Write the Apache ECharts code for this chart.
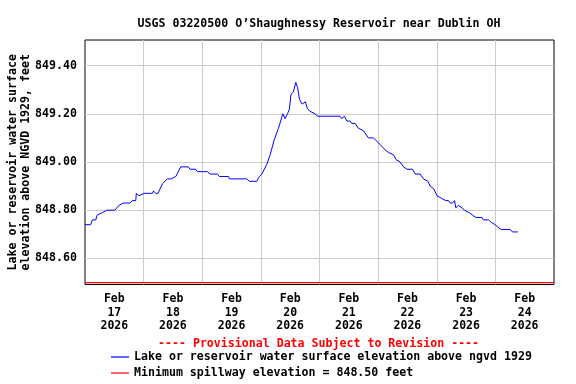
<!DOCTYPE html>
<html>
<head>
<meta charset="utf-8">
<script src="https://cdn.jsdelivr.net/npm/echarts@6/dist/echarts.min.js"></script>
<style>html,body{margin:0;padding:0;background:#fff}#c{width:576px;height:384px}</style>
</head>
<body>
<div id="c"></div>
<script>
// Hours since Feb 17 2026 00:00
const hours = [0,2.3,3.0,4.4,5.0,7.1,8.9,12.2,13.9,15.7,18.4,19.4,20.8,21.0,22.1,24.2,27.6,28.0,29.0,29.9,31.7,33.7,35.3,37.2,39.2,42.3,43.0,45.3,46.0,48.5,50.1,51.2,54.2,55.0,58.7,59.1,66.2,67.3,70.3,71.4,72.4,74.4,75.8,77.4,79.2,81.0,81.9,82.9,83.7,84.3,85.3,86.3,87.0,87.8,88.9,90.2,91.1,92.2,94.2,95.1,104.4,105.1,106.2,107.2,108.5,109.2,110.6,111.9,114.0,116.0,118.1,120.1,122.9,124.2,126.3,127.3,129.0,130.4,131.8,134.1,135.2,137.2,138.6,140.4,141.3,142.7,144.1,145.8,147.7,148.8,149.5,150.4,151.3,151.8,152.9,154.3,155.4,157.3,158.6,160.0,162.5,163.1,165.2,166.3,167.9,169.0,170.4,174.1,175.0,177.2];
const elevation = [848.74,848.74,848.76,848.76,848.78,848.79,848.80,848.80,848.82,848.83,848.83,848.84,848.84,848.87,848.86,848.87,848.87,848.88,848.87,848.87,848.91,848.93,848.93,848.94,848.98,848.98,848.97,848.97,848.96,848.96,848.96,848.95,848.95,848.94,848.94,848.93,848.93,848.92,848.92,848.94,848.95,848.99,849.03,849.09,849.14,849.20,849.18,849.20,849.22,849.28,849.29,849.33,849.31,849.26,849.24,849.25,849.22,849.21,849.20,849.19,849.19,849.18,849.19,849.17,849.17,849.16,849.16,849.14,849.13,849.10,849.10,849.08,849.05,849.04,849.03,849.01,849.00,848.98,848.97,848.97,848.95,848.95,848.93,848.92,848.90,848.89,848.86,848.85,848.84,848.84,848.83,848.83,848.84,848.81,848.82,848.81,848.80,848.79,848.78,848.77,848.77,848.76,848.76,848.75,848.74,848.73,848.72,848.72,848.71,848.71];
const spillwayHours = [0, 192];
const spillwayValues = [848.50, 848.50];
const yTicks = [848.60, 848.80, 849.00, 849.20, 849.40];
const xLabelHours = [12, 36, 60, 84, 108, 132, 156, 180];
const xLabelTexts = ['Feb\n17\n2026','Feb\n18\n2026','Feb\n19\n2026','Feb\n20\n2026','Feb\n21\n2026','Feb\n22\n2026','Feb\n23\n2026','Feb\n24\n2026'];
const xGridHours = [24, 48, 72, 96, 120, 144, 168];
const titleText = "USGS 03220500 O\u2019Shaughnessy Reservoir near Dublin OH";
const yName = "Lake or reservoir water surface\nelevation above NGVD 1929, feet";
const provisional = "---- Provisional Data Subject to Revision ----";
const seriesNames = ["Lake or reservoir water surface elevation above ngvd 1929", "Minimum spillway elevation = 848.50 feet"];

const FONT = '"DejaVu Sans Mono", "Liberation Mono", monospace';
const legendText = {fontFamily: FONT, fontWeight: 'bold', fontSize: 11.6, color: '#000'};
const chart = echarts.init(document.getElementById('c'), null, {renderer: 'canvas'});
chart.setOption({
  animation: false,
  backgroundColor: '#fff',
  title: {
    text: titleText, left: 314, top: 13, textAlign: 'center',
    textStyle: {fontFamily: FONT, fontWeight: 'bold', fontSize: 11.6, color: '#000'}
  },
  grid: {left: 85, right: 22, top: 40, bottom: 99.5, show: true, borderColor: '#000', borderWidth: 1,
         backgroundColor: 'transparent', containLabel: false, outerBoundsMode: 'none'},
  xAxis: {
    type: 'value', min: 0, max: 192,
    axisLine: {show: false},
    axisTick: {show: false, customValues: xGridHours},
    splitLine: {show: true, lineStyle: {color: '#cccccc', width: 1}},
    axisLabel: {
      customValues: xLabelHours,
      formatter: function (v) { const i = xLabelHours.indexOf(v); return i >= 0 ? xLabelTexts[i] : ''; },
      fontFamily: FONT, fontWeight: 'bold', fontSize: 11.5, lineHeight: 13.5, color: '#000', margin: 8
    }
  },
  yAxis: {
    type: 'value', min: 848.492, max: 849.506,
    name: yName, nameLocation: 'middle', nameRotate: 90, nameGap: 53, nameMoveOverlap: false,
    nameTextStyle: {fontFamily: FONT, fontWeight: 'bold', fontSize: 11.6, lineHeight: 12.5, color: '#000'},
    axisLine: {show: false},
    axisTick: {show: false, customValues: yTicks},
    splitLine: {show: true, lineStyle: {color: '#cccccc', width: 1}},
    axisLabel: {
      customValues: yTicks,
      formatter: function (v) { return v.toFixed(2); },
      fontFamily: FONT, fontWeight: 'bold', fontSize: 11.6, color: '#000', margin: 8
    }
  },
  legend: [
    {left: 111, top: 351, padding: 0, itemWidth: 18, itemHeight: 1.2, icon: 'rect', selectedMode: false,
     textStyle: legendText, data: [seriesNames[0]]},
    {left: 111, top: 367, padding: 0, itemWidth: 18, itemHeight: 1.2, icon: 'rect', selectedMode: false,
     textStyle: legendText, data: [seriesNames[1]]}
  ],
  graphic: [{
    type: 'text', left: 158, top: 338,
    style: {text: provisional, fill: '#ff0000', font: 'bold 11.6px ' + FONT}
  }],
  series: [
    {
      name: seriesNames[0], type: 'line', symbol: 'none', color: '#0000ff',
      lineStyle: {color: '#0000ff', width: 1},
      data: hours.map((h, i) => [h, elevation[i]])
    },
    {
      name: seriesNames[1], type: 'line', symbol: 'none', color: '#ff0000',
      lineStyle: {color: '#ff0000', width: 1.2},
      data: spillwayHours.map((h, i) => [h, spillwayValues[i]])
    }
  ]
});
</script>
</body>
</html>
